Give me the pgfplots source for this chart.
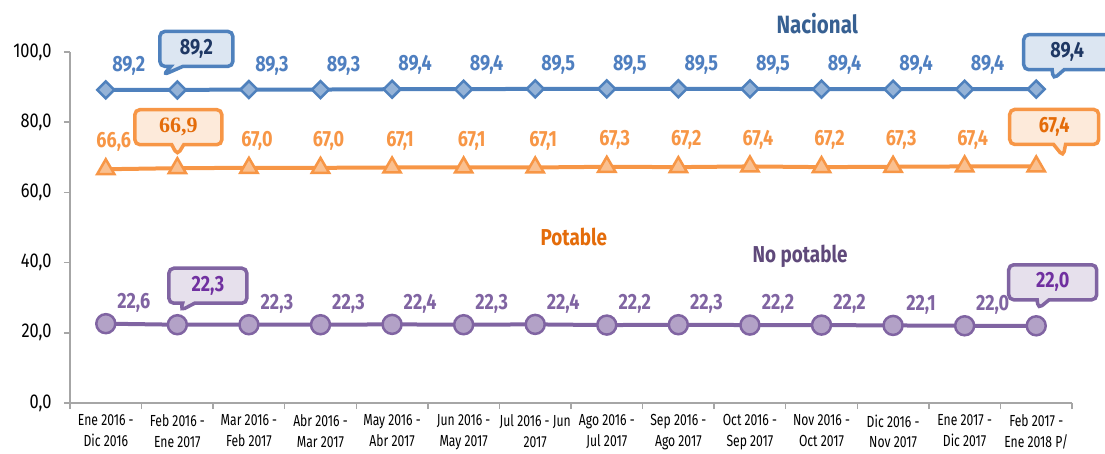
\documentclass[border=0pt]{standalone}
\usepackage{fontspec}
\setmainfont{Fira Sans}[FakeStretch=0.82]
\newfontfamily\serifb{Liberation Serif}
\newfontfamily\narrowf{Fira Sans}[FakeStretch=0.76]
\usepackage{pgfplots}
\pgfplotsset{compat=1.18}
\usepackage{pgfplotstable}
\usetikzlibrary{shapes.callouts}
\definecolor{axgray}{HTML}{A6A6A6}
\definecolor{nline}{HTML}{4F81BD}
\definecolor{nfill}{HTML}{95B3D7}
\definecolor{nlab}{HTML}{4F7FC0}
\definecolor{ndark}{HTML}{1F3864}
\definecolor{nbox}{HTML}{DCE6F2}
\definecolor{ntitle}{HTML}{376092}
\definecolor{pline}{HTML}{F79646}
\definecolor{pfill}{HTML}{FAC090}
\definecolor{plab}{HTML}{F79646}
\definecolor{pdark}{HTML}{E46C0A}
\definecolor{pbox}{HTML}{FDEADA}
\definecolor{ptitle}{HTML}{E46C0A}
\definecolor{uline}{HTML}{8064A2}
\definecolor{ufill}{HTML}{B3A2C7}
\definecolor{ulab}{HTML}{8064A2}
\definecolor{udark}{HTML}{7030A0}
\definecolor{ubox}{HTML}{E6E0EC}
\definecolor{utitle}{HTML}{5F497A}
\pgfplotstableread{
x y lbl
0 89.2 89,2
1 89.2 {}
2 89.3 89,3
3 89.3 89,3
4 89.4 89,4
5 89.4 89,4
6 89.5 89,5
7 89.5 89,5
8 89.5 89,5
9 89.5 89,5
10 89.4 89,4
11 89.4 89,4
12 89.4 89,4
13 89.4 {}
}\nacional
\pgfplotstableread{
x y lbl
0 66.6 66,6
1 66.9 {}
2 67.0 67,0
3 67.0 67,0
4 67.1 67,1
5 67.1 67,1
6 67.1 67,1
7 67.3 67,3
8 67.2 67,2
9 67.4 67,4
10 67.2 67,2
11 67.3 67,3
12 67.4 67,4
13 67.4 {}
}\potable
\pgfplotstableread{
x y lbl
0 22.6 22,6
1 22.3 {}
2 22.3 22,3
3 22.3 22,3
4 22.4 22,4
5 22.3 22,3
6 22.4 22,4
7 22.2 22,2
8 22.3 22,3
9 22.2 22,2
10 22.2 22,2
11 22.1 22,1
12 22.0 22,0
13 22.0 {}
}\nopotable
\tikzset{co/.style={rectangle callout, line width=3.5pt, rounded corners=5pt,
  minimum height=35pt, callout pointer width=12pt, font=\fontsize{22}{22}\selectfont\bfseries}}
\begin{document}
\begin{tikzpicture}
\begin{axis}[
  scale only axis, width=1002pt, height=351pt,
  xmin=-0.5, xmax=13.5, ymin=0, ymax=100,
  clip=false,
  axis lines*=left,
  axis line style={draw=axgray, line width=1.5pt},
  xtick={-0.5,0.5,...,13.5},
  x tick label as interval,
  xticklabels={{Ene 2016 -\\Dic 2016},{Feb 2016 -\\Ene 2017},{Mar 2016 -\\Feb 2017},{Abr 2016 -\\Mar 2017},{May 2016 -\\Abr 2017},{Jun 2016 -\\May 2017},{Jul 2016 - Jun\\2017},{Ago 2016 -\\Jul 2017},{Sep 2016 -\\Ago 2017},{Oct 2016 -\\Sep 2017},{Nov 2016 -\\Oct 2017},{Dic 2016 -\\Nov 2017},{Ene 2017 -\\Dic 2017},{Feb 2017 -\\Ene 2018 P/}},
  ytick={0,20,...,100},
  tick align=outside,
  major tick length=6pt,
  tick style={draw=axgray, line width=1.5pt},
  yticklabel style={font=\fontsize{20}{20}\selectfont, xshift=-9pt},
  xticklabel style={font=\narrowf\fontsize{16}{20.5}\selectfont, align=center, yshift=-2pt},
  /pgf/number format/.cd, fixed, fixed zerofill, precision=1, use comma, assume math mode=true, /pgfplots/.cd,
  point meta=explicit symbolic,
]
\addplot[nline, line width=4pt, mark=square*, mark size=6pt,
  mark options={rotate=45, fill=nfill, draw=nline, line width=2.5pt},
  nodes near coords,
  nodes near coords style={font=\fontsize{22}{22}\selectfont\bfseries, text=nlab, anchor=center, xshift=23pt, yshift=24pt}]
  table[x=x, y=y, meta=lbl]{\nacional};
\addplot[pline, line width=4pt, mark=triangle*, mark size=10pt,
  mark options={fill=pfill, draw=pline, line width=2.5pt},
  nodes near coords,
  nodes near coords style={font=\fontsize{22}{22}\selectfont\bfseries, text=plab, anchor=center, xshift=8pt, yshift=27pt}]
  table[x=x, y=y, meta=lbl]{\potable};
\addplot[uline, line width=4pt, mark=*, mark size=9.5pt,
  mark options={fill=ufill, draw=uline, line width=2.5pt},
  nodes near coords,
  nodes near coords style={font=\fontsize{22}{22}\selectfont\bfseries, text=ulab, anchor=center, xshift=28pt, yshift=21pt}]
  table[x=x, y=y, meta=lbl]{\nopotable};
% callouts
\node[co, draw=nline, fill=nbox, minimum width=73pt, text=ndark,
  callout absolute pointer={([shift={(-14pt,15pt)}]axis cs:1,89.2)}]
  at ([shift={(19pt,41pt)}]axis cs:1,89.2) {89,2};
\node[co, draw=nline, fill=nbox, minimum width=87pt, text=ndark,
  callout absolute pointer={([shift={(17pt,10pt)}]axis cs:13,89.4)}]
  at ([shift={(31pt,37pt)}]axis cs:13,89.4) {89,4};
\node[co, draw=pline, fill=pbox, minimum width=87pt, text=pdark,
  font=\fontsize{22}{22}\selectfont\serifb\bfseries,
  callout absolute pointer={([shift={(0pt,13pt)}]axis cs:1,66.9)}]
  at ([shift={(1pt,41pt)}]axis cs:1,66.9) {66,9};
\node[co, draw=pline, fill=pbox, minimum width=89pt, text=pdark,
  callout absolute pointer={([shift={(27pt,10pt)}]axis cs:13,67.4)}]
  at ([shift={(18pt,39.5pt)}]axis cs:13,67.4) {67,4};
\node[co, draw=uline, fill=ubox, minimum width=78pt, text=udark,
  callout absolute pointer={([shift={(3pt,14pt)}]axis cs:1,22.3)}]
  at ([shift={(30.5pt,39pt)}]axis cs:1,22.3) {22,3};
\node[co, draw=uline, fill=ubox, minimum width=88pt, text=udark,
  callout absolute pointer={([shift={(2pt,17pt)}]axis cs:13,22.0)}]
  at ([shift={(16.5pt,43.5pt)}]axis cs:13,22.0) {22,0};
% series names
\node[text=ntitle, font=\fontsize{25}{25}\selectfont\bfseries] at (axis cs:9.94,108) {Nacional};
\node[text=ptitle, font=\fontsize{23}{23}\selectfont\bfseries] at (axis cs:6.54,47.3) {Potable};
\node[text=utitle, font=\fontsize{23}{23}\selectfont\bfseries] at (axis cs:9.70,41.9) {No potable};
\end{axis}
\pgfresetboundingbox
\path ([shift={(-70pt,-50pt)}]current axis.south west) rectangle ([shift={(33pt,52pt)}]current axis.north east);
\end{tikzpicture}
\end{document}
